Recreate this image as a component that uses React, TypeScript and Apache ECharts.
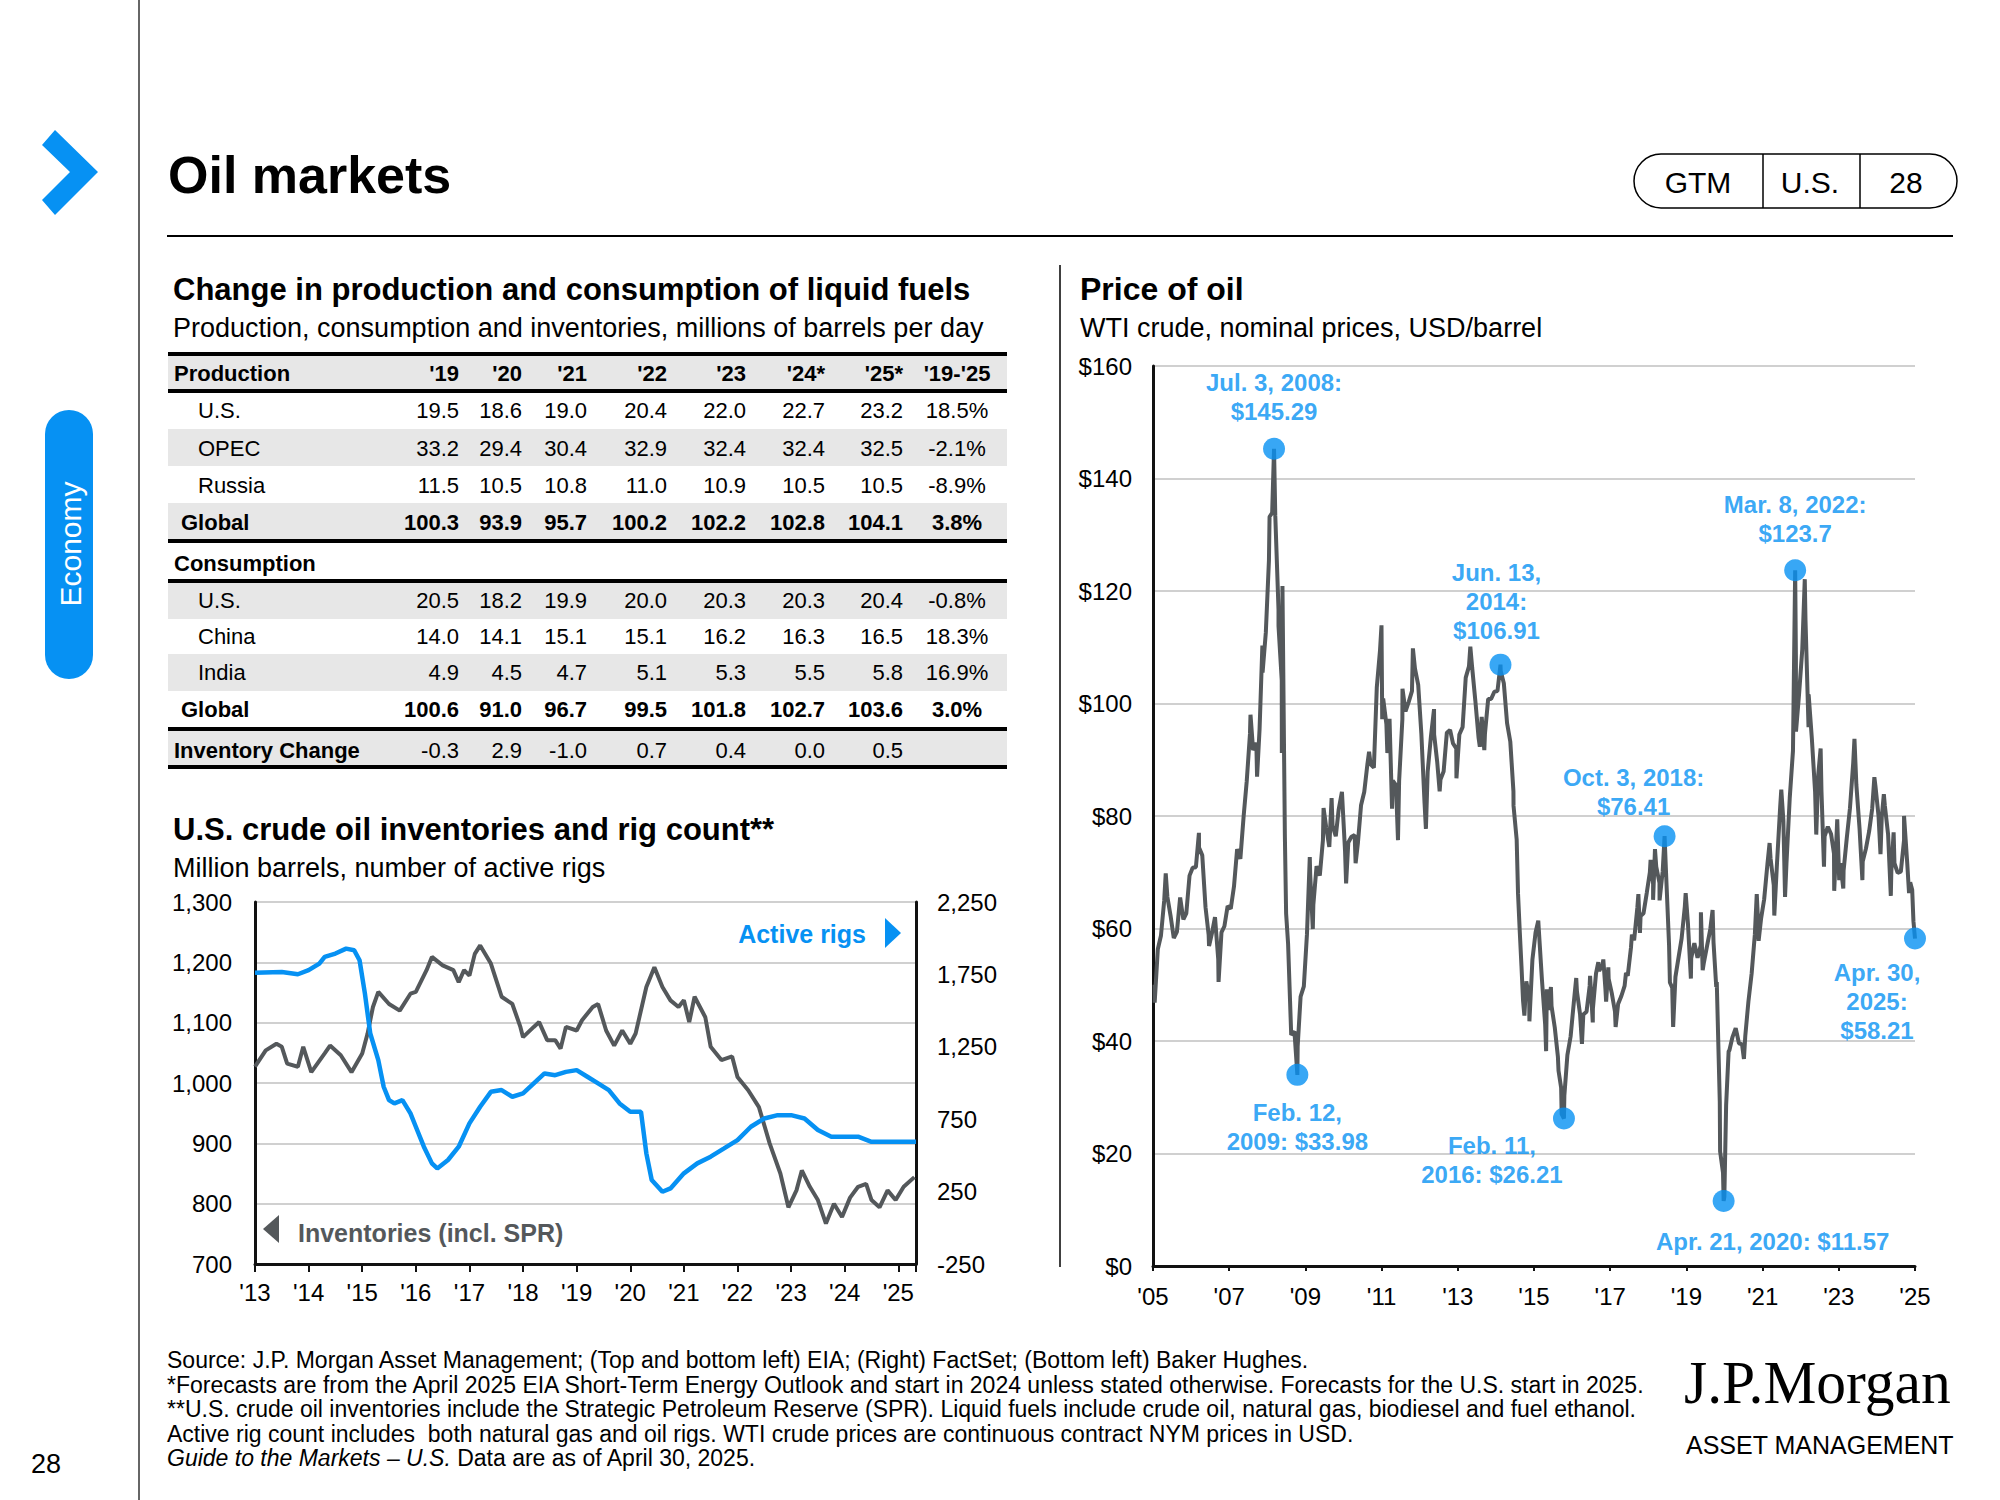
import React, { useEffect, useRef } from "react";
import * as echarts from "echarts";

const BLUE = "#0691F3";
const GRAY = "#54585B";
const FONT = "'Liberation Sans', Arial, Helvetica, sans-serif";

// ---------- Table data ----------
const tableYears = ["'19", "'20", "'21", "'22", "'23", "'24*", "'25*"];
const changeHeader = "'19-'25";
const productionLabels = ["U.S.", "OPEC", "Russia", "Global"];
const productionValues = [
  [19.5, 18.6, 19.0, 20.4, 22.0, 22.7, 23.2],
  [33.2, 29.4, 30.4, 32.9, 32.4, 32.4, 32.5],
  [11.5, 10.5, 10.8, 11.0, 10.9, 10.5, 10.5],
  [100.3, 93.9, 95.7, 100.2, 102.2, 102.8, 104.1],
];
const productionChange = [18.5, -2.1, -8.9, 3.8];
const consumptionLabels = ["U.S.", "China", "India", "Global"];
const consumptionValues = [
  [20.5, 18.2, 19.9, 20.0, 20.3, 20.3, 20.4],
  [14.0, 14.1, 15.1, 15.1, 16.2, 16.3, 16.5],
  [4.9, 4.5, 4.7, 5.1, 5.3, 5.5, 5.8],
  [100.6, 91.0, 96.7, 99.5, 101.8, 102.7, 103.6],
];
const consumptionChange = [-0.8, 18.3, 16.9, 3.0];
const inventoryChange = [-0.3, 2.9, -1.0, 0.7, 0.4, 0.0, 0.5];

// ---------- U.S. crude inventories (million barrels) ----------
const inventories: [number, number][] = [
  [2013.0, 1027], [2013.2, 1054], [2013.4, 1065], [2013.5, 1060], [2013.6, 1032], [2013.8, 1027],
  [2013.9, 1060], [2014.05, 1018], [2014.3, 1049], [2014.4, 1062], [2014.6, 1046], [2014.8, 1018],
  [2015.0, 1049], [2015.1, 1082], [2015.2, 1126], [2015.3, 1151], [2015.5, 1131], [2015.7, 1120],
  [2015.9, 1148], [2016.0, 1151], [2016.2, 1187], [2016.3, 1209], [2016.5, 1195], [2016.7, 1187],
  [2016.8, 1167], [2016.9, 1187], [2017.0, 1178], [2017.1, 1214], [2017.2, 1228], [2017.4, 1198],
  [2017.6, 1143], [2017.8, 1131], [2017.95, 1093], [2018.0, 1076], [2018.2, 1093], [2018.3, 1101],
  [2018.45, 1071], [2018.6, 1071], [2018.7, 1057], [2018.8, 1093], [2019.0, 1087], [2019.1, 1104],
  [2019.3, 1126], [2019.4, 1131], [2019.55, 1087], [2019.7, 1062], [2019.85, 1087], [2020.0, 1065],
  [2020.1, 1082], [2020.3, 1159], [2020.45, 1192], [2020.6, 1159], [2020.75, 1137], [2020.9, 1126],
  [2021.0, 1137], [2021.1, 1101], [2021.2, 1143], [2021.4, 1109], [2021.5, 1060], [2021.7, 1038],
  [2021.9, 1044], [2022.0, 1010], [2022.2, 988], [2022.4, 960], [2022.6, 900], [2022.8, 850],
  [2022.95, 794], [2023.1, 822], [2023.2, 855], [2023.35, 828], [2023.5, 806], [2023.65, 767],
  [2023.8, 800], [2023.95, 778], [2024.1, 810], [2024.25, 828], [2024.4, 833], [2024.5, 806],
  [2024.65, 794], [2024.8, 822], [2024.95, 806], [2025.1, 828], [2025.3, 844],
];

// ---------- Active rigs ----------
const activeRigs: [number, number][] = [
  [2013.0, 1762], [2013.5, 1767], [2013.8, 1751], [2014.0, 1779], [2014.2, 1825], [2014.3, 1871],
  [2014.5, 1894], [2014.7, 1928], [2014.85, 1917], [2014.95, 1848], [2015.05, 1618], [2015.15, 1342],
  [2015.3, 1158], [2015.4, 974], [2015.5, 882], [2015.6, 859], [2015.75, 882], [2015.9, 790],
  [2016.0, 698], [2016.15, 560], [2016.3, 445], [2016.4, 410], [2016.6, 468], [2016.8, 560],
  [2017.0, 721], [2017.2, 836], [2017.4, 939], [2017.6, 951], [2017.8, 905], [2018.0, 928],
  [2018.2, 997], [2018.4, 1066], [2018.6, 1054], [2018.8, 1077], [2019.0, 1089], [2019.2, 1043],
  [2019.4, 997], [2019.6, 951], [2019.8, 859], [2020.0, 801], [2020.2, 801], [2020.3, 514],
  [2020.4, 330], [2020.6, 249], [2020.75, 272], [2021.0, 376], [2021.25, 445], [2021.5, 491],
  [2021.75, 548], [2022.0, 606], [2022.25, 698], [2022.5, 755], [2022.75, 778], [2023.0, 778],
  [2023.25, 755], [2023.5, 675], [2023.75, 629], [2024.0, 629], [2024.25, 629], [2024.5, 594],
  [2024.75, 594], [2025.0, 594], [2025.33, 594],
];

// ---------- WTI crude (USD/barrel) ----------
const wtiFirstMonth = "2005-05";
const wtiMonthlyAvg = [
  50.0, 56.3, 58.7, 64.9, 65.6, 62.3, 58.3, 59.4,
  65.5, 61.6, 62.7, 69.4, 70.8, 70.9, 74.4, 73.0, 63.8, 58.9, 59.1, 62.0,
  54.5, 59.3, 60.4, 64.0, 63.5, 67.5, 74.1, 72.4, 79.9, 86.2, 94.6, 91.7,
  93.0, 95.4, 105.5, 112.6, 125.4, 133.9, 133.4, 116.7, 104.1, 76.6, 57.3, 41.1,
  41.7, 39.1, 47.9, 49.7, 59.0, 69.6, 64.2, 71.1, 69.4, 75.7, 78.0, 74.5,
  78.3, 76.4, 81.2, 84.3, 73.7, 75.3, 76.3, 76.6, 75.2, 81.9, 84.3, 89.2,
  89.2, 88.6, 102.9, 109.5, 100.9, 96.3, 97.3, 86.3, 85.5, 86.3, 97.2, 98.6,
  100.3, 102.2, 106.2, 103.3, 94.7, 82.3, 87.9, 94.1, 94.5, 89.5, 86.5, 87.9,
  94.8, 95.3, 92.9, 92.0, 94.5, 95.8, 104.6, 106.6, 106.3, 100.5, 93.9, 97.6,
  94.6, 100.8, 100.8, 102.1, 102.2, 105.8, 103.6, 96.5, 93.2, 84.4, 75.8, 59.3,
  47.2, 50.6, 47.8, 54.5, 59.3, 59.8, 50.9, 42.9, 45.5, 46.2, 42.4, 37.2,
  31.7, 30.3, 37.5, 40.8, 46.7, 48.8, 44.7, 44.7, 45.2, 49.8, 45.7, 52.0,
  52.5, 53.5, 49.3, 51.1, 48.5, 45.2, 46.6, 48.0, 49.8, 51.6, 56.6, 57.9,
  63.7, 62.2, 62.7, 66.3, 70.0, 67.9, 71.0, 68.1, 70.2, 70.8, 57.0, 49.5,
  51.4, 55.0, 58.2, 63.9, 60.8, 54.7, 57.4, 54.8, 57.0, 54.0, 57.0, 59.9,
  57.5, 50.5, 29.2, 16.6, 28.6, 38.3, 40.7, 42.3, 39.6, 39.4, 40.9, 47.0,
  52.0, 59.0, 62.3, 61.7, 65.2, 71.4, 72.5, 67.7, 71.6, 81.5, 79.2, 71.7,
  83.2, 91.6, 108.5, 101.8, 109.6, 114.8, 101.6, 93.7, 84.3, 87.3, 84.4, 76.4,
  78.1, 76.8, 73.3, 79.4, 71.6, 70.3, 76.0, 81.4, 89.4, 85.6, 77.7, 71.9,
  74.2, 77.3, 81.3, 85.4, 80.0, 79.8, 81.8, 76.7, 70.2, 71.6, 69.9, 70.1,
  75.7, 71.5, 68.2,
];
const wtiSwings: [string, number][] = [
  ["2005-05-16", 46.8], ["2005-08-30", 69.8], ["2006-07-14", 77.0], ["2006-10-19", 56.9],
  ["2007-01-18", 50.5], ["2007-11-20", 98.0], ["2008-01-22", 87.0], ["2008-03-13", 110.3],
  ["2008-05-21", 133.2], ["2008-08-15", 113.8], ["2008-09-16", 91.2], ["2008-09-22", 120.9],
  ["2008-10-27", 62.7], ["2009-06-11", 72.7], ["2009-07-10", 59.9], ["2009-10-21", 81.4],
  ["2010-01-06", 83.2], ["2010-05-25", 68.0], ["2010-08-24", 71.6], ["2010-12-31", 91.4],
  ["2011-04-29", 113.9], ["2011-05-06", 97.2], ["2011-06-24", 91.2], ["2011-08-08", 81.3],
  ["2011-10-04", 75.7], ["2011-11-16", 102.6], ["2012-02-24", 109.8], ["2012-06-28", 77.7],
  ["2012-09-14", 99.0], ["2012-11-07", 84.4], ["2013-04-17", 86.7], ["2013-08-28", 110.1],
  ["2013-11-27", 92.3], ["2014-01-09", 91.7], ["2014-10-16", 81.8], ["2014-11-28", 66.2],
  ["2014-12-31", 53.3], ["2015-01-28", 44.5], ["2015-03-17", 43.5], ["2015-06-10", 61.4],
  ["2015-08-24", 38.2], ["2015-08-31", 49.2], ["2015-10-09", 49.6], ["2015-12-21", 34.7],
  ["2016-01-20", 27.0], ["2016-06-08", 51.2], ["2016-08-02", 39.5], ["2016-10-19", 51.6],
  ["2016-11-14", 43.3], ["2017-01-06", 54.0], ["2017-02-23", 54.5], ["2017-03-22", 47.0],
  ["2017-04-12", 53.1], ["2017-06-21", 42.5], ["2017-09-28", 52.1], ["2017-11-24", 58.9],
  ["2018-01-25", 66.1], ["2018-02-09", 59.2], ["2018-05-22", 72.2], ["2018-06-15", 65.1],
  ["2018-07-03", 74.1], ["2018-08-16", 65.0], ["2018-11-23", 50.4], ["2018-12-24", 42.5],
  ["2019-04-23", 66.3], ["2019-06-12", 51.1], ["2019-09-16", 62.9], ["2019-10-03", 52.6],
  ["2020-01-06", 63.3], ["2020-02-10", 49.6], ["2020-03-18", 20.4], ["2020-04-28", 12.3],
  ["2020-06-08", 38.2], ["2020-11-02", 36.8], ["2021-03-05", 66.1], ["2021-03-23", 57.8],
  ["2021-07-06", 75.2], ["2021-08-20", 62.3], ["2021-10-26", 84.7], ["2021-12-01", 65.6],
  ["2022-03-16", 95.0], ["2022-06-08", 122.1], ["2022-07-14", 95.8], ["2022-09-26", 76.7],
  ["2022-11-07", 92.0], ["2022-12-09", 71.0], ["2023-03-17", 66.7], ["2023-05-04", 68.6],
  ["2023-06-12", 67.1], ["2023-09-27", 93.7], ["2023-12-12", 68.6], ["2024-04-05", 86.9],
  ["2024-06-03", 73.2], ["2024-07-05", 83.9], ["2024-09-10", 65.8], ["2024-10-07", 77.1],
  ["2025-01-15", 80.0], ["2025-03-04", 66.3], ["2025-04-03", 66.9], ["2025-04-15", 61.3],
];
const wtiEvents: [string, number, string][] = [
  ["2008-07-03", 145.29, "Jul. 3, 2008:\n$145.29"],
  ["2009-02-12", 33.98, "Feb. 12,\n2009: $33.98"],
  ["2014-06-13", 106.91, "Jun. 13,\n2014:\n$106.91"],
  ["2016-02-11", 26.21, "Feb. 11,\n2016: $26.21"],
  ["2018-10-03", 76.41, "Oct. 3, 2018:\n$76.41"],
  ["2020-04-21", 11.57, "Apr. 21, 2020: $11.57"],
  ["2022-03-08", 123.7, "Mar. 8, 2022:\n$123.7"],
  ["2025-04-30", 58.21, "Apr. 30,\n2025:\n$58.21"],
];
// label placement for each event (position, distance, x offset)
const eventLabelPlacement: [string, number, number][] = [
  ["top", 12, 0], ["bottom", 12, 0], ["top", 9, -4], ["bottom", 1, -72],
  ["top", 4, -31], ["bottom", 15, 49], ["top", 11, 0], ["bottom", 8, -38],
];

const footnotes = [
  "Source: J.P. Morgan Asset Management; (Top and bottom left) EIA; (Right) FactSet; (Bottom left) Baker Hughes.",
  "*Forecasts are from the April 2025 EIA Short-Term Energy Outlook and start in 2024 unless stated otherwise. Forecasts for the U.S. start in 2025.",
  "**U.S. crude oil inventories include the Strategic Petroleum Reserve (SPR). Liquid fuels include crude oil, natural gas, biodiesel and fuel ethanol.",
  "Active rig count includes  both natural gas and oil rigs. WTI crude prices are continuous contract NYM prices in USD.",
];

function decYear(s: string): number {
  const [y, m, d] = s.split("-").map(Number);
  const a = Date.UTC(y, 0, 1);
  const b = Date.UTC(y + 1, 0, 1);
  return y + (Date.UTC(y, m - 1, d) - a) / (b - a);
}

function text(x: number, y: number, t: string, o: any = {}) {
  return {
    type: "text",
    x,
    y,
    silent: true,
    z: 10,
    rotation: o.rotation ?? 0,
    scaleX: o.scaleX ?? 1,
    style: {
      text: t,
      fill: o.fill ?? "#000",
      fontSize: o.size ?? 22,
      fontWeight: o.bold ? "bold" : "normal",
      fontStyle: o.italic ? "italic" : "normal",
      fontFamily: o.family ?? FONT,
      align: o.align ?? "left",
      verticalAlign: "middle",
      rich: o.rich,
    },
  };
}
function line(x1: number, y1: number, x2: number, y2: number, w: number, c = "#000") {
  return { type: "line", silent: true, shape: { x1, y1, x2, y2 }, style: { stroke: c, lineWidth: w } };
}
function rect(x: number, y: number, w: number, h: number, fill: string, r = 0) {
  return { type: "rect", silent: true, shape: { x, y, width: w, height: h, r }, style: { fill } };
}

function buildGraphics() {
  const g: any[] = [];
  // page chrome
  g.push(line(139, 0, 139, 1500, 1.5, "#333"));
  g.push({
    type: "polygon",
    silent: true,
    shape: { points: [[55, 130], [98, 172], [55, 215], [42, 200], [70, 172], [42, 145]] },
    style: { fill: BLUE },
  });
  g.push(text(168, 175, "Oil markets", { size: 52, bold: true }));
  g.push({
    type: "rect",
    silent: true,
    shape: { x: 1634, y: 154, width: 323, height: 54, r: 27 },
    style: { fill: "none", stroke: "#000", lineWidth: 1.5 },
  });
  g.push(line(1763, 154, 1763, 208, 1.5));
  g.push(line(1860, 154, 1860, 208, 1.5));
  g.push(text(1698, 182, "GTM", { size: 30, align: "center" }));
  g.push(text(1810, 182, "U.S.", { size: 30, align: "center" }));
  g.push(text(1906, 182, "28", { size: 30, align: "center" }));
  g.push(line(167, 236, 1953, 236, 2));
  g.push(rect(45, 410, 48, 269, BLUE, 24));
  g.push(text(70, 544, "Economy", { size: 30, fill: "#fff", align: "center", rotation: Math.PI / 2 }));
  g.push(text(46, 1464, "28", { size: 27, align: "center" }));

  // table
  g.push(text(173, 289, "Change in production and consumption of liquid fuels", { size: 31, bold: true }));
  g.push(text(173, 328, "Production, consumption and inventories, millions of barrels per day", { size: 27 }));
  const L = 168, W = 839;
  const colRight = [459, 522, 587, 667, 746, 825, 903];
  const chgX = 957;
  const shade = "#E7E7E7";
  g.push(rect(L, 355, W, 36, shade));
  g.push(text(174, 373, "Production", { bold: true }));
  tableYears.forEach((yr, i) => g.push(text(colRight[i], 373, yr, { bold: true, align: "right" })));
  g.push(text(chgX, 373, changeHeader, { bold: true, align: "center" }));

  const prodY = [410, 448, 485, 522];
  const prodBg = [false, true, false, true];
  productionLabels.forEach((lab, r) => {
    const y = prodY[r];
    const bold = r === 3;
    if (prodBg[r]) g.push(rect(L, y - 19, W, 37, shade));
    g.push(text(bold ? 181 : 198, y, lab, { bold }));
    productionValues[r].forEach((v, i) => g.push(text(colRight[i], y, v.toFixed(1), { bold, align: "right" })));
    g.push(text(chgX, y, productionChange[r].toFixed(1) + "%", { bold, align: "center" }));
  });
  g.push(text(174, 563, "Consumption", { bold: true }));
  const consY = [600, 636, 672, 709];
  const consBg = [true, false, true, false];
  consumptionLabels.forEach((lab, r) => {
    const y = consY[r];
    const bold = r === 3;
    if (consBg[r]) g.push(rect(L, y - 18, W, 37, shade));
    g.push(text(bold ? 181 : 198, y, lab, { bold }));
    consumptionValues[r].forEach((v, i) => g.push(text(colRight[i], y, v.toFixed(1), { bold, align: "right" })));
    g.push(text(chgX, y, consumptionChange[r].toFixed(1) + "%", { bold, align: "center" }));
  });
  g.push(rect(L, 731, W, 35, shade));
  g.push(text(174, 750, "Inventory Change", { bold: true }));
  inventoryChange.forEach((v, i) => g.push(text(colRight[i], 750, v.toFixed(1), { align: "right" })));
  [354, 391, 541, 581, 729, 767].forEach((y) => g.push(line(L, y, L + W, y, 4)));

  // bottom-left chart titles + labels
  g.push(text(173, 829, "U.S. crude oil inventories and rig count**", { size: 31, bold: true }));
  g.push(text(173, 868, "Million barrels, number of active rigs", { size: 27 }));
  g.push(text(866, 934, "Active rigs", { size: 25, bold: true, fill: BLUE, align: "right" }));
  g.push({ type: "polygon", silent: true, shape: { points: [[885, 918], [901, 933], [885, 948]] }, style: { fill: BLUE } });
  g.push({ type: "polygon", silent: true, shape: { points: [[279, 1215], [263, 1229], [279, 1243]] }, style: { fill: GRAY } });
  g.push(text(298, 1233, "Inventories (incl. SPR)", { size: 25, bold: true, fill: GRAY }));

  // right chart
  g.push(line(1060, 265, 1060, 1267, 1.5));
  g.push(text(1080, 289, "Price of oil", { size: 32, bold: true }));
  g.push(text(1080, 328, "WTI crude, nominal prices, USD/barrel", { size: 27 }));

  // footer
  const fy = [1360, 1385, 1409, 1434];
  footnotes.forEach((f, i) => g.push(text(167, fy[i], f, { size: 23 })));
  g.push(
    text(167, 1458, "{i|Guide to the Markets – U.S.} Data are as of April 30, 2025.", {
      size: 23,
      rich: { i: { fontStyle: "italic", fontSize: 23, fontFamily: FONT, fill: "#000" } },
    })
  );
  g.push(text(1684, 1382, "J.P.Morgan", { size: 62, scaleX: 0.96, family: "'Liberation Serif', 'Times New Roman', serif" }));
  g.push(text(1686, 1445, "ASSET MANAGEMENT", { size: 25 }));
  return g;
}

function buildOption() {
  const START = decYear("2005-04-30");
  const monthly: [string, number][] = wtiMonthlyAvg.map((v, i) => {
    const [y0, m0] = wtiFirstMonth.split("-").map(Number);
    const m = m0 - 1 + i;
    const y = y0 + Math.floor(m / 12);
    const mm = String((m % 12) + 1).padStart(2, "0");
    return [`${y}-${mm}-15`, v];
  });
  const pricePts = [...monthly, ...wtiSwings, ...wtiEvents.map((e) => [e[0], e[1]] as [string, number])]
    .map(([d, v]) => [decYear(d) - START, v])
    .sort((a, b) => a[0] - b[0]);

  const eventData = wtiEvents.map((e, i) => {
    const [pos, dist, dx] = eventLabelPlacement[i];
    return {
      value: [decYear(e[0]) - START, e[1]],
      label: { show: true, position: pos, distance: dist, offset: [dx, 0], formatter: e[2] },
    };
  });

  const axisLabelBase = { fontSize: 24, color: "#000", fontFamily: FONT };
  const axisLineDark = { show: true, lineStyle: { color: "#111", width: 3 } };
  const split = { show: true, lineStyle: { color: "#D0D0D0", width: 2 } };

  return {
    animation: false,
    backgroundColor: "#fff",
    textStyle: { fontFamily: FONT },
    grid: [
      { left: 255, top: 902, width: 661, height: 362 },
      { left: 1153, top: 366, width: 762, height: 900 },
    ],
    xAxis: [
      {
        gridIndex: 0,
        type: "value",
        min: 2013,
        max: 2025.33,
        interval: 1,
        axisLine: axisLineDark,
        axisTick: { show: true, length: 8, lineStyle: { color: "#111", width: 2 } },
        axisLabel: {
          ...axisLabelBase,
          margin: 16,
          formatter: (v: number) => (Math.abs(v - Math.round(v)) < 1e-6 ? "'" + String(Math.round(v)).slice(2) : ""),
        },
        splitLine: { show: false },
      },
      {
        gridIndex: 1,
        type: "value",
        min: 0,
        max: 20,
        interval: 2,
        axisLine: axisLineDark,
        axisTick: { show: true, length: 5, lineStyle: { color: "#111", width: 2 } },
        axisLabel: {
          ...axisLabelBase,
          margin: 18,
          formatter: (v: number) => "'" + String(5 + Math.round(v)).padStart(2, "0"),
        },
        splitLine: { show: false },
      },
    ],
    yAxis: [
      {
        gridIndex: 0,
        type: "value",
        min: 700,
        max: 1300,
        interval: 100,
        position: "left",
        axisLine: axisLineDark,
        axisTick: { show: false },
        axisLabel: { ...axisLabelBase, margin: 23, formatter: (v: number) => v.toLocaleString("en-US") },
        splitLine: split,
      },
      {
        gridIndex: 0,
        type: "value",
        min: 0,
        max: 2500,
        interval: 500,
        position: "right",
        axisLine: axisLineDark,
        axisTick: { show: false },
        axisLabel: { ...axisLabelBase, margin: 21, formatter: (v: number) => (v - 250).toLocaleString("en-US") },
        splitLine: { show: false },
      },
      {
        gridIndex: 1,
        type: "value",
        min: 0,
        max: 160,
        interval: 20,
        axisLine: axisLineDark,
        axisTick: { show: false },
        axisLabel: { ...axisLabelBase, margin: 21, formatter: (v: number) => "$" + v },
        splitLine: split,
      },
    ],
    series: [
      {
        type: "line",
        name: "Inventories",
        xAxisIndex: 0,
        yAxisIndex: 0,
        data: inventories,
        symbol: "none",
        lineStyle: { color: GRAY, width: 4 },
        z: 3,
      },
      {
        type: "line",
        name: "Active rigs",
        xAxisIndex: 0,
        yAxisIndex: 1,
        data: activeRigs.map(([x, v]) => [x, v + 250]),
        symbol: "none",
        lineStyle: { color: BLUE, width: 4.5 },
        z: 4,
      },
      {
        type: "line",
        name: "WTI",
        xAxisIndex: 1,
        yAxisIndex: 2,
        data: pricePts,
        symbol: "none",
        lineStyle: { color: GRAY, width: 4 },
        z: 3,
      },
      {
        type: "scatter",
        xAxisIndex: 1,
        yAxisIndex: 2,
        data: eventData,
        symbolSize: 22,
        clip: false,
        itemStyle: { color: BLUE },
        label: { color: BLUE, fontSize: 24, fontWeight: "bold", lineHeight: 29, align: "center", fontFamily: FONT },
        z: 5,
      },
    ],
    graphic: { elements: buildGraphics() },
  };
}

export default function App() {
  const ref = useRef<HTMLDivElement>(null);
  useEffect(() => {
    const chart = echarts.init(ref.current!, null, { renderer: "svg" });
    chart.setOption(buildOption() as any);
    return () => chart.dispose();
  }, []);
  return (
    <div
      ref={ref}
      style={{ position: "fixed", left: 0, top: 0, width: 2000, height: 1500, background: "#fff" }}
    />
  );
}
